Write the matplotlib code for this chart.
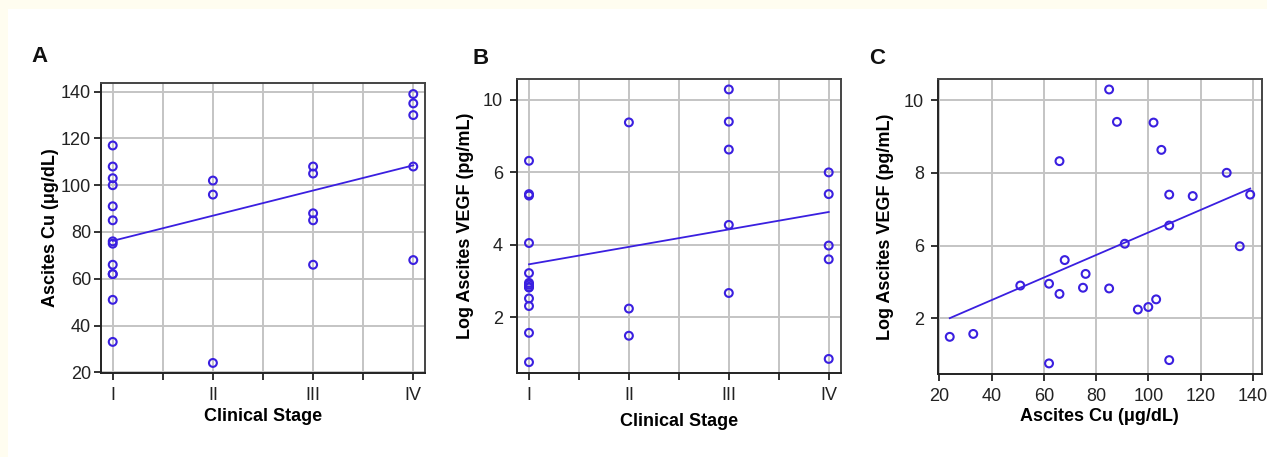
import numpy as np
import matplotlib
matplotlib.use('Agg')
from matplotlib import pyplot as plt
from matplotlib.patches import Rectangle

plt.rcParams['font.family'] = ['Liberation Sans', 'DejaVu Sans']

# one row per patient: clinical stage, ascites Cu, log ascites VEGF
stage = [1, 1, 1, 1, 1, 1, 1, 1, 1, 1, 1, 1, 1,
         2, 2, 2,
         3, 3, 3, 3, 3,
         4, 4, 4, 4, 4]
cu = [117, 108, 103, 100, 91, 85, 76, 75, 66, 62, 62, 51, 33,
      102, 96, 24,
      108, 105, 88, 85, 66,
      139, 135, 130, 108, 68]
vegf = [7.36, 7.40, 4.52, 4.31, 6.05, 4.82, 5.22, 4.84, 8.32, 4.95, 2.76, 4.90, 3.57,
        9.38, 4.24, 3.49,
        6.55, 8.63, 9.40, 10.29, 4.67,
        7.40, 5.98, 8.00, 2.85, 5.60]

stage_ticks = [1, 2, 3, 4]
stage_labels = ['I', 'II', 'III', 'IV']
cu_ticks = [20, 40, 60, 80, 100, 120, 140]
vegf_ticks = [4, 6, 8, 10]
vegf_labels_b = ['2', '4', '6', '10']
vegf_labels_c = ['2', '6', '8', '10']

W, H = 1267, 457
blue = '#3a1fe0'
grid_c = '#c4c4c4'

fig = plt.figure(figsize=(W / 100, H / 100), dpi=100)
fig.patch.set_facecolor('#fffdf0')
fig.patches.append(Rectangle((8 / W, 0), 1, 1 - 9 / H, transform=fig.transFigure,
                             facecolor='white', edgecolor='none', zorder=-1))


def box(l, t, r, b):
    return [l / W, 1 - b / H, (r - l) / W, (b - t) / H]


def style(ax):
    ax.set_facecolor('white')
    for s in ax.spines.values():
        s.set_linewidth(1.4)
        s.set_color('#222222')
    ax.spines['top'].set_color('#444444')
    ax.spines['right'].set_color('#444444')
    ax.tick_params(direction='out', length=5, width=1.3, color='#222222',
                   labelsize=13, labelcolor='#222222', pad=5)
    ax.tick_params(which='minor', direction='out', length=5, width=1.3, color='#222222')
    ax.grid(True, which='both', color=grid_c, linewidth=1.4)
    ax.set_axisbelow(True)


def scatter_fit(ax, x, y):
    ax.scatter(x, y, s=32, facecolors='none', edgecolors=blue, linewidths=1.5, zorder=3)
    k, c = np.polyfit(x, y, 1)
    xs = np.array([min(x), max(x)])
    ax.plot(xs, k * xs + c, color=blue, lw=1.3, zorder=2)


# A
axA = fig.add_axes(box(100.7, 82.7, 425, 373.3))
style(axA)
axA.tick_params(axis='y', pad=2)
scatter_fit(axA, stage, cu)
axA.set_xlim(0.88, 4.117)
axA.set_ylim(19.57, 143.85)
axA.set_xticks(stage_ticks)
axA.set_xticklabels(stage_labels)
axA.set_xticks([1.5, 2.5, 3.5], minor=True)
axA.set_yticks(cu_ticks)
axA.set_xlabel('Clinical Stage', fontsize=13, fontweight='bold', labelpad=3)
axA.set_ylabel('Ascites Cu (\u03bcg/dL)', fontsize=13, fontweight='bold', labelpad=1)

# B
axB = fig.add_axes(box(516.7, 79.3, 840.7, 373.3))
style(axB)
scatter_fit(axB, stage, vegf)
axB.set_xlim(0.877, 4.12)
axB.set_ylim(2.453, 10.57)
axB.set_xticks(stage_ticks)
axB.set_xticklabels(stage_labels)
axB.set_xticks([1.5, 2.5, 3.5], minor=True)
axB.set_yticks(vegf_ticks)
axB.set_yticklabels(vegf_labels_b)
axB.set_xlabel('Clinical Stage', fontsize=13, fontweight='bold', labelpad=6)
axB.set_ylabel('Log Ascites VEGF (pg/mL)', fontsize=13, fontweight='bold', labelpad=6)

# C
axC = fig.add_axes(box(937.7, 79.3, 1261.7, 374.3))
style(axC)
scatter_fit(axC, cu, vegf)
axC.set_xlim(19.39, 143.4)
axC.set_ylim(2.46, 10.57)
axC.set_xticks(cu_ticks)
axC.set_yticks(vegf_ticks)
axC.set_yticklabels(vegf_labels_c)
axC.set_xlabel('Ascites Cu (\u03bcg/dL)', fontsize=13, fontweight='bold', labelpad=2)
axC.set_ylabel('Log Ascites VEGF (pg/mL)', fontsize=13, fontweight='bold', labelpad=7)

for letter, px, py in [('A', 40, 56), ('B', 481, 58), ('C', 877, 58)]:
    fig.text(px / W, 1 - py / H, letter, fontsize=16, fontweight='bold',
             ha='center', va='center', color='#111111')

fig.savefig('out.png', dpi=100, facecolor=fig.get_facecolor())
